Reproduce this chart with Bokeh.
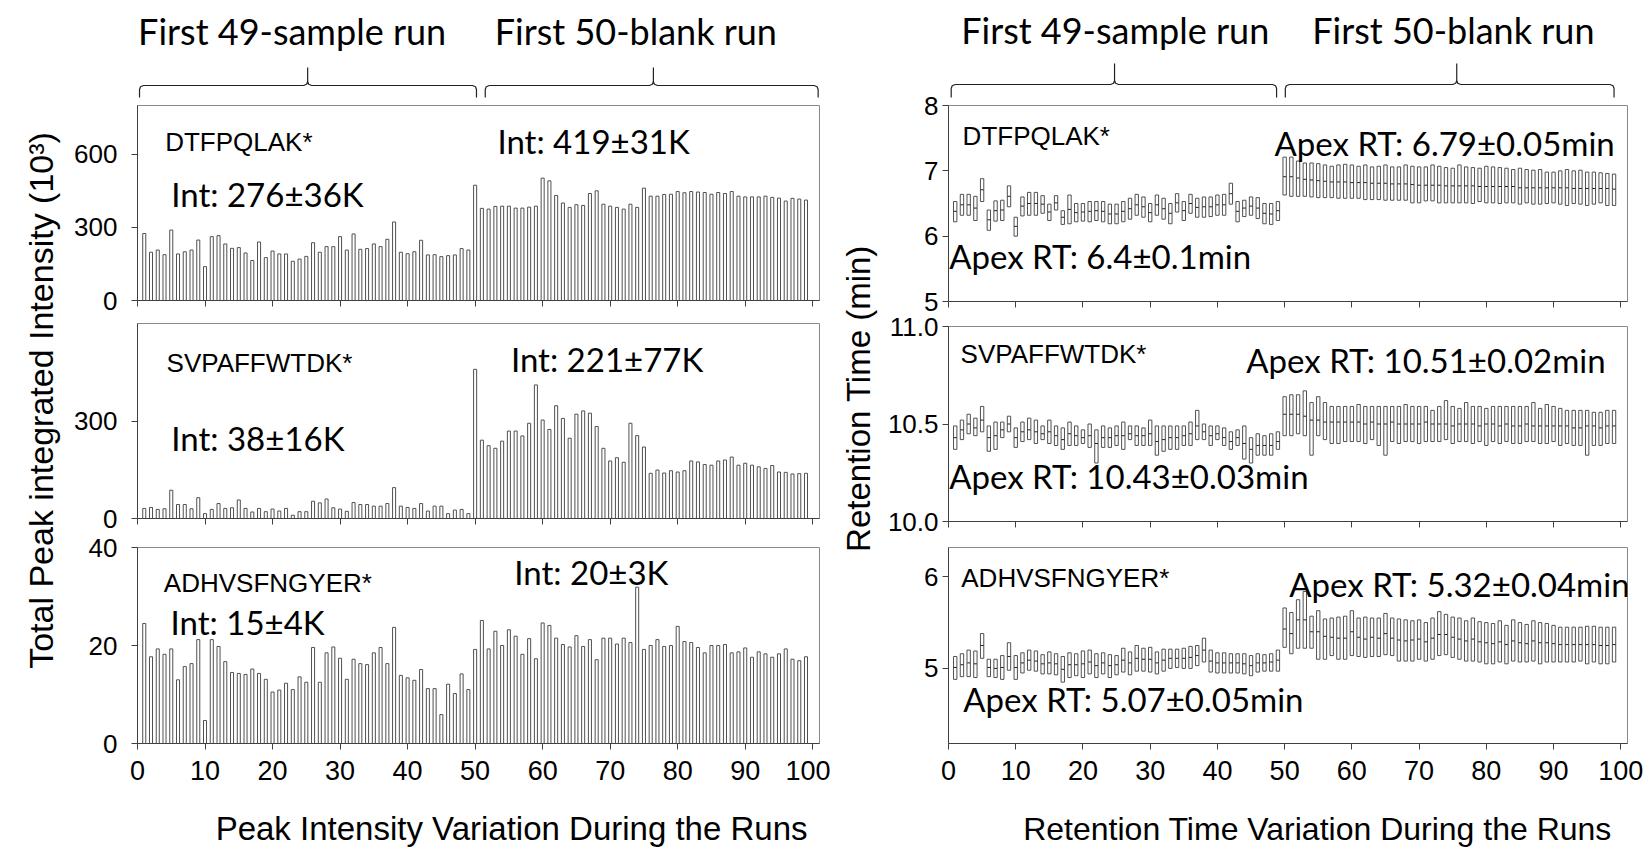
import math
from bokeh.plotting import figure
from bokeh.models import Range1d, FixedTicker, ColumnDataSource, NumeralTickFormatter
from bokeh.layouts import row, column
from bokeh.embed import file_html
from bokeh.resources import INLINE
from bokeh.core.properties import value

# ---------------- data ----------------
runs = list(range(1, 100))          # 1-49 sample runs, 50-99 blank runs
x_ticks = [0, 10, 20, 30, 40, 50, 60, 70, 80, 90, 100]

# total peak integrated intensity (10^3)
int_dtfpqlak = [275, 198, 207, 188, 289, 191, 200, 207, 248, 139, 262, 266, 232, 214, 217, 195, 164, 240, 176, 203,
                191, 191, 161, 170, 181, 237, 198, 221, 221, 262, 207, 273, 210, 213, 232, 221, 251, 322, 198, 192,
                200, 247, 187, 188, 180, 184, 187, 213, 207,
                473, 378, 375, 386, 387, 387, 379, 379, 383, 387, 502, 491, 431, 400, 382, 393, 390, 439, 450, 395,
                387, 382, 375, 395, 382, 461, 428, 428, 435, 436, 447, 442, 447, 445, 443, 436, 443, 439, 447, 428,
                425, 425, 425, 428, 423, 420, 408, 419, 416, 412]
int_svpaffwtdk = [31, 34, 28, 30, 87, 43, 43, 30, 64, 15, 28, 46, 31, 33, 57, 31, 20, 31, 21, 29,
                  23, 31, 10, 21, 21, 53, 48, 60, 33, 29, 22, 49, 43, 43, 38, 38, 46, 95, 38, 34,
                  31, 46, 23, 38, 38, 15, 26, 28, 15,
                  459, 241, 224, 216, 238, 269, 269, 254, 293, 411, 303, 274, 347, 308, 247, 321, 331, 324, 283, 216,
                  177, 187, 173, 293, 255, 220, 139, 149, 140, 147, 143, 147, 177, 174, 166, 164, 177, 180, 189, 164,
                  170, 164, 159, 154, 163, 143, 142, 137, 138, 139]
int_adhvsfngyer = [24.5, 17.7, 19.3, 18.2, 19.3, 13.0, 15.7, 16.3, 21.2, 4.7, 21.2, 19.8, 16.7, 14.5, 14.3, 14.1,
                   15.2, 14.3, 13.1, 10.5, 10.9, 12.3, 11.0, 13.6, 12.5, 19.6, 12.5, 18.5, 19.7, 17.4, 13.1, 17.2,
                   16.3, 16.1, 18.5, 19.6, 16.3, 23.7, 13.9, 13.4, 12.9, 15.1, 11.2, 11.2, 5.9, 12.1, 10.2, 14.2, 11.0,
                   19.2, 25.1, 19.3, 22.9, 20.0, 23.2, 21.9, 18.2, 21.4, 17.3, 24.6, 24.1, 21.5, 20.2, 19.7, 22.0,
                   19.8, 21.2, 17.1, 21.5, 21.5, 20.3, 21.5, 20.6, 31.9, 19.2, 20.0, 21.2, 19.8, 20.0, 23.9, 20.8,
                   20.6, 19.6, 18.5, 20.0, 20.0, 20.2, 18.5, 18.7, 19.5, 17.6, 18.7, 18.3, 17.6, 18.3, 19.3, 17.2,
                   16.9, 17.7]

# retention time (min): peak start / peak end / apex
rt_dtfpqlak_high = [6.53, 6.64, 6.64, 6.61, 6.88, 6.40, 6.54, 6.55, 6.77, 6.29, 6.60, 6.67, 6.67, 6.62, 6.49, 6.62,
                    6.39, 6.63, 6.50, 6.50, 6.53, 6.53, 6.53, 6.49, 6.49, 6.53, 6.58, 6.64, 6.60, 6.50, 6.63, 6.58,
                    6.50, 6.65, 6.53, 6.64, 6.58, 6.60, 6.60, 6.63, 6.64, 6.81, 6.53, 6.55, 6.60, 6.59, 6.50, 6.50, 6.53,
                    7.21, 7.21, 7.15, 7.12, 7.12, 7.11, 7.09, 7.07, 7.09, 7.10, 7.09, 7.07, 7.09, 7.06, 7.07, 7.09,
                    7.06, 7.06, 7.09, 7.07, 7.06, 7.06, 7.09, 7.07, 7.05, 7.04, 7.09, 7.06, 7.05, 7.04, 7.07, 7.06,
                    7.05, 7.04, 7.02, 7.04, 7.02, 7.01, 7.02, 6.98, 6.98, 7.00, 7.02, 7.00, 7.01, 6.98, 6.98, 6.97,
                    6.96, 6.95]
rt_dtfpqlak_low = [6.22, 6.32, 6.32, 6.24, 6.53, 6.09, 6.23, 6.24, 6.45, 6.00, 6.31, 6.32, 6.32, 6.35, 6.24, 6.40,
                   6.18, 6.19, 6.22, 6.23, 6.22, 6.24, 6.22, 6.19, 6.19, 6.22, 6.26, 6.32, 6.29, 6.22, 6.32, 6.26,
                   6.19, 6.37, 6.24, 6.35, 6.29, 6.29, 6.30, 6.32, 6.32, 6.49, 6.22, 6.30, 6.32, 6.27, 6.19, 6.18, 6.24,
                   6.63, 6.61, 6.61, 6.61, 6.60, 6.59, 6.59, 6.59, 6.58, 6.58, 6.58, 6.58, 6.56, 6.56, 6.56, 6.55,
                   6.55, 6.55, 6.55, 6.51, 6.51, 6.54, 6.54, 6.51, 6.51, 6.51, 6.51, 6.51, 6.50, 6.53, 6.51, 6.51,
                   6.50, 6.51, 6.51, 6.49, 6.51, 6.49, 6.49, 6.50, 6.51, 6.49, 6.47, 6.50, 6.49, 6.47, 6.49, 6.51,
                   6.47, 6.47]
rt_dtfpqlak_apex = [6.38, 6.48, 6.48, 6.43, 6.71, 6.25, 6.39, 6.40, 6.61, 6.15, 6.46, 6.50, 6.50, 6.49, 6.37, 6.51,
                    6.29, 6.41, 6.36, 6.37, 6.38, 6.39, 6.38, 6.34, 6.34, 6.38, 6.42, 6.48, 6.45, 6.36, 6.48, 6.42,
                    6.35, 6.51, 6.39, 6.50, 6.44, 6.45, 6.45, 6.48, 6.48, 6.65, 6.38, 6.43, 6.46, 6.43, 6.35, 6.34, 6.39,
                    6.91, 6.91, 6.89, 6.87, 6.86, 6.85, 6.84, 6.83, 6.83, 6.83, 6.82, 6.82, 6.82, 6.81, 6.81, 6.81,
                    6.80, 6.80, 6.80, 6.79, 6.78, 6.78, 6.78, 6.78, 6.77, 6.77, 6.77, 6.77, 6.77, 6.76, 6.76, 6.76,
                    6.76, 6.76, 6.76, 6.74, 6.74, 6.74, 6.74, 6.74, 6.74, 6.74, 6.74, 6.73, 6.73, 6.73, 6.73, 6.73,
                    6.73, 6.72]

rt_svpaffwtdk_high = [10.49, 10.52, 10.55, 10.53, 10.59, 10.49, 10.51, 10.51, 10.54, 10.48, 10.51, 10.53, 10.52,
                      10.49, 10.52, 10.49, 10.48, 10.51, 10.49, 10.47, 10.50, 10.47, 10.49, 10.48, 10.49, 10.51,
                      10.49, 10.49, 10.48, 10.52, 10.49, 10.49, 10.49, 10.49, 10.49, 10.51, 10.57, 10.50, 10.49,
                      10.49, 10.48, 10.46, 10.47, 10.49, 10.43, 10.45, 10.44, 10.45, 10.46,
                      10.64, 10.65, 10.65, 10.67, 10.61, 10.64, 10.61, 10.59, 10.59, 10.59, 10.59, 10.60, 10.59,
                      10.59, 10.59, 10.59, 10.59, 10.59, 10.60, 10.59, 10.59, 10.59, 10.57, 10.59, 10.62, 10.59,
                      10.58, 10.61, 10.59, 10.59, 10.58, 10.59, 10.59, 10.59, 10.59, 10.59, 10.59, 10.61, 10.58,
                      10.60, 10.59, 10.58, 10.57, 10.57, 10.57, 10.57, 10.56, 10.56, 10.57, 10.57]
rt_svpaffwtdk_low = [10.37, 10.42, 10.45, 10.44, 10.46, 10.36, 10.37, 10.43, 10.46, 10.38, 10.41, 10.42, 10.40,
                     10.42, 10.40, 10.39, 10.37, 10.39, 10.39, 10.40, 10.38, 10.30, 10.38, 10.38, 10.39, 10.37,
                     10.42, 10.39, 10.39, 10.39, 10.34, 10.36, 10.37, 10.37, 10.39, 10.39, 10.42, 10.42, 10.39,
                     10.42, 10.39, 10.37, 10.39, 10.32, 10.30, 10.34, 10.34, 10.34, 10.37,
                     10.44, 10.44, 10.45, 10.44, 10.34, 10.44, 10.42, 10.40, 10.40, 10.41, 10.41, 10.41, 10.40,
                     10.42, 10.39, 10.34, 10.41, 10.40, 10.41, 10.41, 10.40, 10.41, 10.41, 10.41, 10.42, 10.40,
                     10.41, 10.41, 10.40, 10.41, 10.39, 10.41, 10.40, 10.41, 10.40, 10.40, 10.41, 10.41, 10.40,
                     10.40, 10.41, 10.39, 10.40, 10.39, 10.39, 10.34, 10.39, 10.39, 10.40, 10.40]
rt_svpaffwtdk_apex = [10.43, 10.47, 10.50, 10.48, 10.52, 10.43, 10.44, 10.47, 10.50, 10.43, 10.46, 10.47, 10.46,
                      10.45, 10.46, 10.44, 10.42, 10.45, 10.44, 10.43, 10.44, 10.40, 10.43, 10.43, 10.44, 10.44,
                      10.45, 10.44, 10.44, 10.45, 10.41, 10.42, 10.43, 10.43, 10.44, 10.45, 10.49, 10.46, 10.44,
                      10.45, 10.43, 10.41, 10.43, 10.40, 10.37, 10.39, 10.39, 10.39, 10.41,
                      10.55, 10.55, 10.55, 10.54, 10.52, 10.52, 10.51, 10.51, 10.51, 10.51,
                      10.51, 10.51, 10.50, 10.51, 10.50, 10.50, 10.51, 10.50, 10.50, 10.50, 10.50, 10.51, 10.50,
                      10.50, 10.50, 10.49, 10.50, 10.50, 10.50, 10.49, 10.50, 10.50, 10.49, 10.50, 10.49, 10.49,
                      10.50, 10.49, 10.49, 10.49, 10.49, 10.49, 10.49, 10.48, 10.48, 10.49, 10.49, 10.48, 10.49,
                      10.49]

rt_adhvsfngyer_high = [5.13, 5.16, 5.20, 5.19, 5.38, 5.10, 5.10, 5.14, 5.28, 5.14, 5.17, 5.20, 5.19, 5.15, 5.18,
                       5.16, 5.13, 5.17, 5.16, 5.19, 5.20, 5.16, 5.17, 5.15, 5.14, 5.22, 5.18, 5.25, 5.22, 5.23,
                       5.18, 5.21, 5.21, 5.21, 5.22, 5.24, 5.25, 5.33, 5.20, 5.17, 5.17, 5.16, 5.16, 5.16, 5.14,
                       5.16, 5.15, 5.16, 5.20,
                       5.66, 5.61, 5.75, 5.84, 5.57, 5.63, 5.54, 5.55, 5.56, 5.57, 5.63, 5.55, 5.56, 5.55, 5.55,
                       5.60, 5.55, 5.54, 5.53, 5.52, 5.53, 5.50, 5.55, 5.62, 5.59, 5.56, 5.55, 5.52, 5.55, 5.51,
                       5.50, 5.49, 5.52, 5.47, 5.53, 5.50, 5.48, 5.52, 5.50, 5.49, 5.47, 5.45, 5.45, 5.45, 5.45,
                       5.46, 5.46, 5.45, 5.45, 5.45]
rt_adhvsfngyer_low = [4.88, 4.91, 4.91, 4.90, 5.11, 4.91, 4.90, 4.88, 4.98, 4.88, 4.95, 4.98, 4.97, 4.94, 4.94,
                      4.93, 4.85, 4.90, 4.92, 4.90, 4.94, 4.90, 4.94, 4.90, 4.93, 4.96, 4.93, 4.97, 4.97, 4.96,
                      4.94, 4.97, 5.00, 5.01, 5.00, 5.00, 5.03, 5.07, 4.96, 4.95, 4.95, 4.95, 4.95, 4.94, 4.92,
                      4.96, 4.97, 4.97, 4.97,
                      5.23, 5.16, 5.22, 5.22, 5.22, 5.10, 5.10, 5.14, 5.10, 5.10, 5.14, 5.13, 5.12, 5.13, 5.13,
                      5.15, 5.14, 5.08, 5.08, 5.08, 5.10, 5.08, 5.10, 5.14, 5.15, 5.12, 5.10, 5.08, 5.08, 5.07,
                      5.05, 5.05, 5.07, 5.05, 5.08, 5.07, 5.07, 5.08, 5.05, 5.07, 5.07, 5.07, 5.07, 5.07, 5.08,
                      5.05, 5.07, 5.05, 5.05, 5.07]
rt_adhvsfngyer_apex = [5.01, 5.04, 5.06, 5.05, 5.25, 5.01, 5.00, 5.01, 5.13, 5.01, 5.06, 5.09, 5.08, 5.05, 5.06,
                       5.05, 4.99, 5.04, 5.04, 5.05, 5.07, 5.03, 5.06, 5.03, 5.04, 5.09, 5.06, 5.11, 5.10, 5.10,
                       5.06, 5.09, 5.11, 5.11, 5.11, 5.12, 5.14, 5.20, 5.08, 5.06, 5.06, 5.06, 5.06, 5.05, 5.03,
                       5.06, 5.06, 5.07, 5.09,
                       5.43, 5.38, 5.53, 5.53, 5.40, 5.40, 5.35, 5.34, 5.33, 5.33, 5.40, 5.34, 5.32, 5.34, 5.33,
                       5.38, 5.33, 5.31, 5.30, 5.31, 5.32, 5.29, 5.33, 5.37, 5.37, 5.34, 5.32, 5.30, 5.32, 5.29,
                       5.28, 5.27, 5.29, 5.26, 5.30, 5.28, 5.27, 5.30, 5.28, 5.28, 5.27, 5.26, 5.26, 5.26, 5.26,
                       5.26, 5.26, 5.25, 5.25, 5.26]

group_titles = ["First 49-sample run", "First 50-blank run"]
group_spans = [(1, 49), (50, 99)]

peptides = ["DTFPQLAK*", "SVPAFFWTDK*", "ADHVSFNGYER*"]
int_labels = [("Int: 276±36K", "Int: 419±31K"), ("Int: 38±16K", "Int: 221±77K"), ("Int: 15±4K", "Int: 20±3K")]
rt_labels = [("Apex RT: 6.4±0.1min", "Apex RT: 6.79±0.05min"),
             ("Apex RT: 10.43±0.03min", "Apex RT: 10.51±0.02min"),
             ("Apex RT: 5.07±0.05min", "Apex RT: 5.32±0.04min")]

# ---------------- styling ----------------
TICK_FONT = "Liberation Sans"
NAME_FONT = "Liberation Sans"
NOTE_FONT = "Lato"
AXIS_COL = "#404040"
FRAME_COL = "#8a8a8a"
BAR_LINE = "#505050"


def make_panel(width, height, lb, rb, top, bottom, yr, yticks, tick_size, standoff,
               bottom_labels=False, fmt=None, shift=0):
    p = figure(width=width, height=height, x_range=Range1d(0, 101), y_range=Range1d(*yr),
               min_border_left=lb, min_border_right=rb, min_border_top=top, min_border_bottom=bottom,
               output_backend="svg", toolbar_location=None, margin=(-shift, 0, 0, 0))
    p.grid.visible = False
    p.outline_line_color = FRAME_COL
    p.outline_line_width = 1
    p.background_fill_color = "white"
    p.border_fill_alpha = 0
    ya = p.yaxis[0]
    ya.ticker = FixedTicker(ticks=yticks)
    if fmt:
        ya.formatter = NumeralTickFormatter(format=fmt)
    ya.minor_tick_line_color = None
    ya.major_tick_in = 0
    ya.major_tick_out = 6
    ya.axis_line_color = AXIS_COL
    ya.major_tick_line_color = AXIS_COL
    ya.major_label_text_font = TICK_FONT
    ya.major_label_text_font_size = tick_size
    ya.major_label_text_color = "black"
    ya.major_label_standoff = standoff
    xa = p.xaxis[0]
    xa.axis_line_color = AXIS_COL
    if bottom_labels:
        xa.ticker = FixedTicker(ticks=x_ticks)
        xa.minor_tick_line_color = None
        xa.major_tick_in = 0
        xa.major_tick_out = 6
        xa.major_tick_line_color = AXIS_COL
        xa.major_label_text_font = TICK_FONT
        xa.major_label_text_color = "black"
        xa.major_label_text_font_size = "27px"
        xa.major_label_standoff = 11
    else:
        # tick marks only (no labels) on the upper panels
        xa.ticker = FixedTicker(ticks=[], minor_ticks=x_ticks)
        xa.minor_tick_in = 0
        xa.minor_tick_out = 6
        xa.minor_tick_line_color = AXIS_COL
    return p


def add_texts(p, xs, ys, texts, font, size, align="left"):
    p.text(x=xs, y=ys, text=texts, text_font=value(font), text_font_size=size,
           text_baseline="middle", text_align=align, text_color="black")


def make_xlabel(width, lb, rb, text, xc, size, shift):
    f = figure(width=width, height=60, x_range=Range1d(0, 101), y_range=Range1d(0, 60),
               min_border_left=lb, min_border_right=rb, min_border_top=0, min_border_bottom=0,
               x_axis_location=None, y_axis_location=None, output_backend="svg", toolbar_location=None,
               margin=(-shift, 0, 0, 0))
    f.grid.visible = False
    f.outline_line_color = None
    f.border_fill_alpha = 0
    f.background_fill_alpha = 0
    add_texts(f, [xc], [20], [text], TICK_FONT, size, align="center")
    return f


def make_strip(width, height, lb, rb, title_x, brackets, y_end, y_bar, y_tip, title_y):
    s = figure(width=width, height=height, x_range=Range1d(0, 101), y_range=Range1d(height, 0),
               min_border_left=lb, min_border_right=rb, min_border_top=0, min_border_bottom=0,
               x_axis_location=None, y_axis_location=None, output_backend="svg", toolbar_location=None)
    s.grid.visible = False
    s.outline_line_color = None
    s.border_fill_alpha = 0
    s.background_fill_alpha = 0
    xs_all, ys_all = [], []
    for (x0, x1, xm) in brackets:
        xs = [x0, x0, x0 + 0.15, x0 + 0.6, xm - 0.6, xm - 0.15, xm, xm,
              xm, xm + 0.15, xm + 0.6, x1 - 0.6, x1 - 0.15, x1, x1]
        ys = [y_end, y_bar + 4, y_bar + 1.2, y_bar, y_bar, y_bar - 1.2, y_bar - 4, y_tip,
              y_bar - 4, y_bar - 1.2, y_bar, y_bar, y_bar + 1.2, y_bar + 4, y_end]
        xs_all.append(xs)
        ys_all.append(ys)
    s.multi_line(xs_all, ys_all, line_color="#222222", line_width=1.2)
    add_texts(s, title_x, [title_y, title_y], group_titles, NOTE_FONT, "36px", align="center")
    return s


# ---------------- left column: intensities ----------------
LW, LLB, LRB = 760, 67, 11
stripL = make_strip(LW, 105, LLB, LRB, [22.9, 73.8],
                    [(group_spans[0][0] - 0.7, group_spans[0][1] + 1.2, 25.2),
                     (group_spans[1][0] + 1.5, group_spans[1][1] + 1.8, 76.4)],
                    97, 85, 67, 30)

int_series = [int_dtfpqlak, int_svpaffwtdk, int_adhvsfngyer]
left_specs = [  # height, top border, bottom border, overlap with previous, y-range, ticks
    (255, 30, 30, 30, (0, 800), [0, 300, 600]),
    (255, 30, 30, 37, (0, 600), [0, 300]),
    (276, 30, 50, 31, (0, 40), [0, 20, 40]),
]
left_text_pos = [
    ((4.1, 652), (5.0, 435), (53.3, 656)),
    ((4.3, 480), (5.0, 249), (55.3, 492)),
    ((3.9, 32.7), (4.9, 24.7), (55.8, 34.9)),
]
left_panels = []
for k, (h, t, b, ov, yr, yt) in enumerate(left_specs):
    last = (k == 2)
    p = make_panel(LW, h, LLB, LRB, t, b, yr, yt, "26px", 14, bottom_labels=last, shift=ov)
    src = ColumnDataSource(dict(run=runs, val=int_series[k]))
    p.vbar(x="run", top="val", bottom=0, width=0.45, source=src,
           fill_color="white", line_color=BAR_LINE, line_width=1)
    (nx, ny), (ax, ay), (bx, by) = left_text_pos[k]
    add_texts(p, [nx], [ny], [peptides[k]], NAME_FONT, "26px")
    add_texts(p, [ax, bx], [ay, by], list(int_labels[k]), NOTE_FONT, "33px")
    left_panels.append(p)
xlabL = make_xlabel(LW, LLB, LRB, "Peak Intensity Variation During the Runs", 55.4, "33px", 5)

# ---------------- right column: retention times ----------------
RW, RLB, RRB = 764, 62, 21
stripR = make_strip(RW, 105, RLB, RRB, [24.8, 75.1],
                    [(group_spans[0][0] - 0.6, group_spans[0][1] - 0.2, 24.7),
                     (group_spans[1][0] + 0.1, group_spans[1][1], 75.6)],
                    97, 84, 63, 29)

rt_series = [(rt_dtfpqlak_low, rt_dtfpqlak_high, rt_dtfpqlak_apex),
             (rt_svpaffwtdk_low, rt_svpaffwtdk_high, rt_svpaffwtdk_apex),
             (rt_adhvsfngyer_low, rt_adhvsfngyer_high, rt_adhvsfngyer_apex)]
right_specs = [
    (256, 30, 30, 30, (5, 8), [5, 6, 7, 8], None),
    (255, 30, 30, 35, (10, 11), [10, 10.5, 11], "0.0"),
    (276, 30, 50, 34, (4.18, 6.32), [5, 6], None),
]
right_text_pos = [
    ((2.1, 7.54), (0.1, 5.70), (48.5, 7.43)),
    ((1.8, 10.86), (0.1, 10.235), (44.3, 10.83)),
    ((1.9, 5.99), (2.2, 4.67), (50.7, 5.92)),
]
right_panels = []
for k, (h, t, b, ov, yr, yt, fmt) in enumerate(right_specs):
    last = (k == 2)
    p = make_panel(RW, h, RLB, RRB, t, b, yr, yt, "26px", 4, bottom_labels=last, fmt=fmt, shift=ov)
    lo, hi, ap = rt_series[k]
    src = ColumnDataSource(dict(run=runs, low=lo, high=hi, apex=ap))
    p.vbar(x="run", top="high", bottom="low", width=0.5, source=src,
           fill_color="white", line_color=BAR_LINE, line_width=1)
    p.dash(x="run", y="apex", size=3, source=src, line_color="#202020", line_width=1)
    (nx, ny), (ax, ay), (bx, by) = right_text_pos[k]
    add_texts(p, [nx], [ny], [peptides[k]], NAME_FONT, "26px")
    add_texts(p, [ax, bx], [ay, by], list(rt_labels[k]), NOTE_FONT, "33px")
    right_panels.append(p)
xlabR = make_xlabel(RW, RLB, RRB, "Retention Time Variation During the Runs", 54.9, "32px", 5)


# ---------------- y-axis titles ----------------
def ylabel_fig(width, text, xc, yc, size):
    f = figure(width=width, height=848, x_range=Range1d(0, width), y_range=Range1d(0, 848),
               min_border=0, x_axis_location=None, y_axis_location=None,
               output_backend="svg", toolbar_location=None)
    f.grid.visible = False
    f.outline_line_color = None
    f.text(x=[xc], y=[848 - yc], text=[text], angle=math.pi / 2, text_font=value(TICK_FONT),
           text_font_size=size, text_align="center", text_baseline="middle", text_color="black")
    return f


ylabL = ylabel_fig(70, "Total Peak integrated Intensity (10³)", 40, 400, "34px")
ylabR = ylabel_fig(54, "Retention Time (min)", 28, 398, "33px")

layout = row(ylabL, column(stripL, *left_panels, xlabL), ylabR, column(stripR, *right_panels, xlabR))

with open("out.html", "w") as fh:
    fh.write(file_html(layout, INLINE))
